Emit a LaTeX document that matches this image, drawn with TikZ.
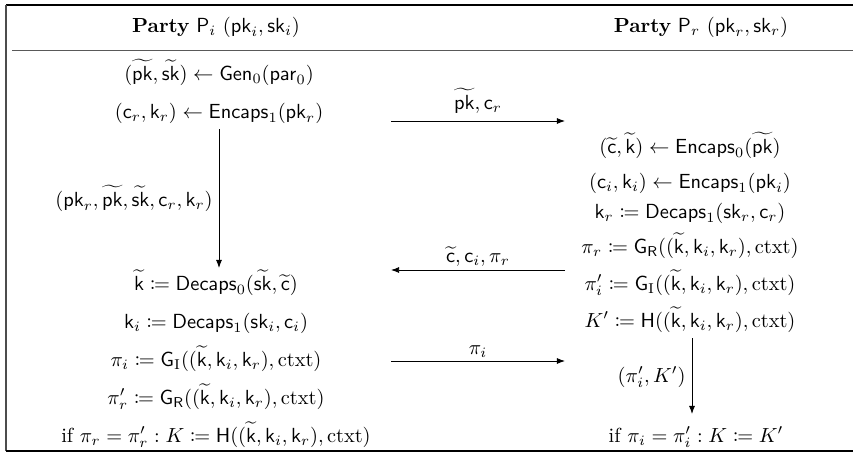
\documentclass[tikz,border=0pt]{standalone}
\usepackage{amsmath,mathtools}
\usetikzlibrary{arrows.meta}
\newcommand{\wpk}{\widetilde{\mathsf{pk}}}
\newcommand{\wsk}{\widetilde{\mathsf{sk}}}
\newcommand{\wkk}{\widetilde{\mathsf{k}}}
\newcommand{\wcc}{\widetilde{\mathsf{c}}}
\newcommand{\sfx}[1]{\mathsf{#1}}
\begin{document}
\begin{tikzpicture}[x=0.49pt,y=-0.49pt,
  txt/.style={inner sep=0pt, anchor=base},
  lbl/.style={inner sep=0pt, anchor=base east},
  msg/.style={inner sep=0pt, anchor=base},
  arr/.style={-{Latex[length=4pt,width=3pt]}, line width=0.45pt},
  frame/.style={line width=0.5pt}]
\useasboundingbox (0,0) rectangle (853,455);
% frame
\draw[frame] (6,5) -- (853,5);
\draw[frame, black!70] (6,5) -- (6,451);
\draw[frame] (6,451) -- (853,451);
\draw[line width=0.9pt, black!65] (12,50.5) -- (853,50.5);
% headers
\node[txt] (hl) at (216,32) {\textbf{Party} $\sfx{P}_i$ $(\sfx{pk}_i,\sfx{sk}_i)$};
\node[txt] (hr) at (701,32) {\textbf{Party} $\sfx{P}_r$ $(\sfx{pk}_r,\sfx{sk}_r)$};
% left column
\node[txt] (l1) at (219,80) {$(\wpk,\wsk)\leftarrow\sfx{Gen}_0(\sfx{par}_0)$};
\node[txt] (l2) at (219,118) {$(\sfx{c}_r,\sfx{k}_r)\leftarrow\sfx{Encaps}_1(\sfx{pk}_r)$};
\node[txt] (l3) at (216,290) {$\wkk\coloneqq\sfx{Decaps}_0(\wsk,\wcc)$};
\node[txt] (l4) at (216,328) {$\sfx{k}_i\coloneqq\sfx{Decaps}_1(\sfx{sk}_i,\sfx{c}_i)$};
\node[txt] (l5) at (216,366) {$\pi_i\coloneqq\sfx{G}_{\mathrm{I}}((\wkk,\sfx{k}_i,\sfx{k}_r),\mathrm{ctxt})$};
\node[txt] (l6) at (216,404) {$\pi'_r\coloneqq\sfx{G}_{\sfx{R}}((\wkk,\sfx{k}_i,\sfx{k}_r),\mathrm{ctxt})$};
\node[txt] (l7) at (216,442) {$\text{if }\pi_r=\pi'_r: K\coloneqq\sfx{H}((\wkk,\sfx{k}_i,\sfx{k}_r),\mathrm{ctxt})$};
% right column
\node[txt] (r1) at (690,153) {$(\wcc,\wkk)\leftarrow\sfx{Encaps}_0(\wpk)$};
\node[txt] (r2) at (690,188) {$(\sfx{c}_i,\sfx{k}_i)\leftarrow\sfx{Encaps}_1(\sfx{pk}_i)$};
\node[txt] (r3) at (690,218) {$\sfx{k}_r\coloneqq\sfx{Decaps}_1(\sfx{sk}_r,\sfx{c}_r)$};
\node[txt] (r4) at (690,253) {$\pi_r\coloneqq\sfx{G}_{\sfx{R}}((\wkk,\sfx{k}_i,\sfx{k}_r),\mathrm{ctxt})$};
\node[txt] (r5) at (690,290) {$\pi'_i\coloneqq\sfx{G}_{\mathrm{I}}((\wkk,\sfx{k}_i,\sfx{k}_r),\mathrm{ctxt})$};
\node[txt] (r6) at (690,327) {$K'\coloneqq\sfx{H}((\wkk,\sfx{k}_i,\sfx{k}_r),\mathrm{ctxt})$};
\node[txt] (r7) at (696,442) {$\text{if }\pi_i=\pi'_i: K\coloneqq K'$};
% local arrows
\coordinate (va) at (219,129);
\coordinate (vb) at (219,268);
\draw[arr] (va) -- (vb);
\node[lbl] (vl) at (213,206) {$(\sfx{pk}_r,\wpk,\wsk,\sfx{c}_r,\sfx{k}_r)$};
\coordinate (wa) at (692,338);
\coordinate (wb) at (692,414);
\draw[arr] (wa) -- (wb);
\node[lbl] (wl) at (686,382) {$(\pi'_i,K')$};
% messages
\coordinate (m1s) at (391,121);
\coordinate (m1e) at (565,121);
\draw[arr] (m1s) -- (m1e);
\node[msg] (m1) at (478,109) {$\wpk,\sfx{c}_r$};
\coordinate (m2s) at (565,270);
\coordinate (m2e) at (391,270);
\draw[arr] (m2s) -- (m2e);
\node[msg] (m2) at (478,262) {$\wcc,\sfx{c}_i,\pi_r$};
\coordinate (m3s) at (391,361);
\coordinate (m3e) at (565,361);
\draw[arr] (m3s) -- (m3e);
\node[msg] (m3) at (478,354) {$\pi_i$};
\end{tikzpicture}
\end{document}
